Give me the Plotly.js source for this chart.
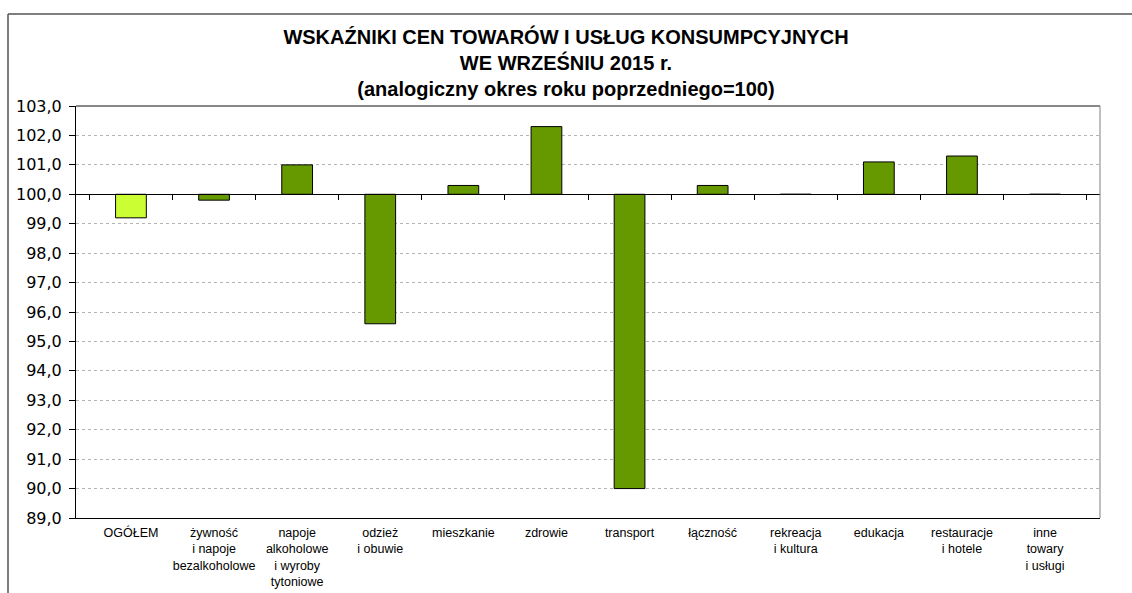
<!DOCTYPE html>
<html><head><meta charset="utf-8">
<script src="https://cdn.plot.ly/plotly-3.0.1.min.js"></script>
<style>html,body{margin:0;padding:0;background:#fff}#chart{width:1132px;height:593px}</style>
</head><body><div id="chart"></div>
<script>
const categories = ["OGÓŁEM","żywność<br>i napoje<br>bezalkoholowe","napoje<br>alkoholowe<br>i wyroby<br>tytoniowe","odzież<br>i obuwie","mieszkanie","zdrowie","transport","łączność","rekreacja<br>i kultura","edukacja","restauracje<br>i hotele","inne<br>towary<br>i usługi"];
const values = [99.2, 99.8, 101.0, 95.6, 100.3, 102.3, 90.0, 100.3, 100.0, 101.1, 101.3, 100.0];
const baseValue = 100;
const yTicks = [89,90,91,92,93,94,95,96,97,98,99,100,101,102,103];
const colors = categories.map((c,i)=> i===0 ? '#CCFF33' : '#669900');
const yMin = 89, yMax = 103;

const trace = {
  type:'bar', x: categories, y: values.map(v=>v-baseValue), base: baseValue,
  marker:{color: colors, line:{color:'#000', width:1}},
  width: 0.37, hoverinfo:'skip'
};
const helper = {type:'scatter', x: categories, y: values, xaxis:'x2', mode:'markers', marker:{opacity:0}, hoverinfo:'skip', showlegend:false};

const layout = {
  width:1132, height:593,
  margin:{l:76, r:32, t:106, b:75},
  paper_bgcolor:'#fff', plot_bgcolor:'#fff',
  separators:', ',
  showlegend:false,
  font:{family:'Liberation Sans, Arial, sans-serif', color:'#000'},
  title:{text:'<b>WSKAŹNIKI CEN TOWARÓW I USŁUG KONSUMPCYJNYCH<br>WE WRZEŚNIU 2015 r.<br>(analogiczny okres roku poprzedniego=100)</b>',
    font:{size:20, color:'#000'}, x:0.5, xref:'container', xanchor:'center', y:1-44/593, yref:'container', yanchor:'middle'},
  xaxis:{type:'category', showline:true, linecolor:'#000', linewidth:1, ticks:'', showgrid:false,
    tickfont:{size:12.5}, ticklabelstandoff:3, fixedrange:true, zeroline:false},
  xaxis2:{type:'category', overlaying:'x', matches:'x', anchor:'free', position:(baseValue-yMin)/(yMax-yMin),
    showline:true, linecolor:'#000', linewidth:1, ticks:'outside', ticklen:5, tickcolor:'#000', tickson:'boundaries',
    showticklabels:false, showgrid:false, side:'bottom'},
  yaxis:{range:[yMin,yMax], tickvals:yTicks, tickformat:'.1f', showline:true, linecolor:'#000', linewidth:1,
    ticks:'outside', ticklen:6, tickcolor:'#000', showgrid:true, gridcolor:'#b4b4b4', griddash:'dot', gridwidth:1,
    tickfont:{size:16, family:'DejaVu Sans, sans-serif'}, ticklabelstandoff:4, zeroline:false, fixedrange:true},
  shapes:[
    {type:'line', xref:'paper', yref:'paper', x0:0, x1:1, y0:1, y1:1, line:{color:'#606060', width:1.5}},
    {type:'line', xref:'paper', yref:'paper', x0:1, x1:1, y0:0, y1:1, line:{color:'#808080', width:1}},
    {type:'line', xref:'paper', yref:'paper', x0:-68/1024, x1:1.2, y0:1+92/412, y1:1+92/412, line:{color:'#555', width:1.5}},
    {type:'line', xref:'paper', yref:'paper', x0:-68/1024, x1:-68/1024, y0:1+92/412, y1:-0.3, line:{color:'#555', width:1.5}}
  ]
};
Plotly.newPlot('chart',[trace, helper],layout,{displayModeBar:false, staticPlot:true});
</script></body></html>
